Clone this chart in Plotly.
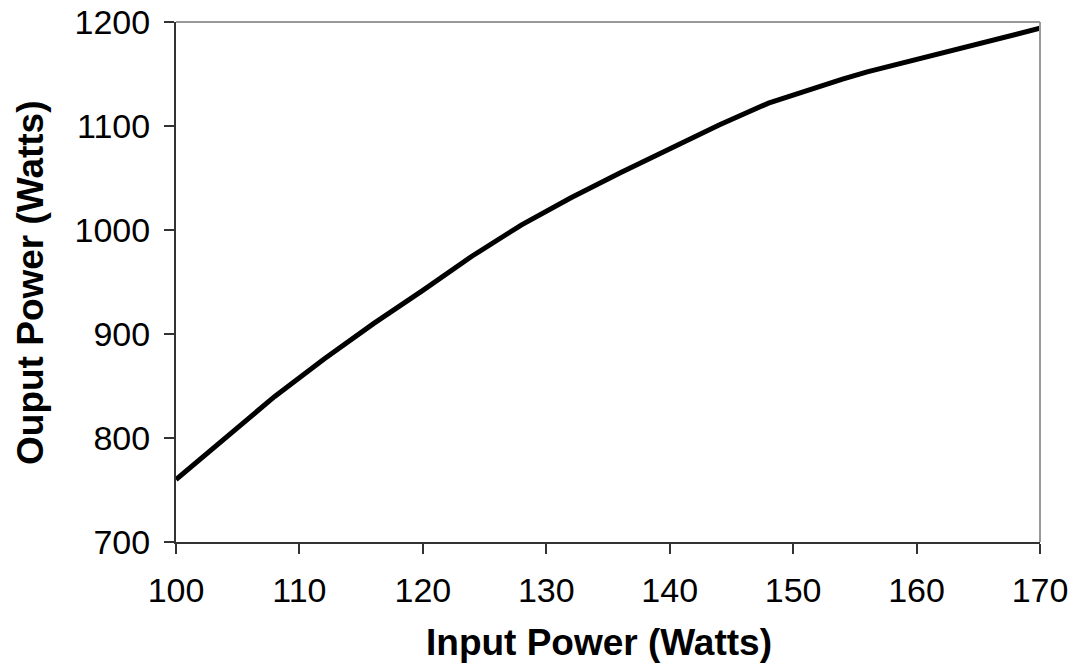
import plotly.graph_objects as go

input_power = [100, 104, 108, 112, 116, 120, 124, 128, 132, 136, 140, 144, 148, 152, 154, 156, 160, 164, 168, 170]
output_power = [760, 800, 840, 876, 910, 942, 975, 1005, 1031, 1055, 1078, 1101, 1122, 1138, 1145, 1152, 1164, 1176, 1187, 1194]

x_ticks = [100, 110, 120, 130, 140, 150, 160, 170]
y_ticks = [700, 800, 900, 1000, 1100, 1200]

fig = go.Figure()
fig.add_trace(go.Scatter(x=input_power, y=output_power, mode="lines",
                         line=dict(color="black", width=5), showlegend=False))

axis_font = dict(family="Liberation Sans, Arial, sans-serif", size=34, color="black")
title_font = dict(family="Liberation Sans, Arial, sans-serif", size=37, color="black")

fig.update_layout(
    width=1071, height=666,
    margin=dict(l=176, r=31, t=22, b=124),
    paper_bgcolor="white", plot_bgcolor="white",
    xaxis=dict(range=[100, 170], tickvals=x_ticks, ticktext=[str(v) for v in x_ticks],
               showgrid=False, zeroline=False, showline=True, linecolor="#333", linewidth=2,
               ticks="outside", ticklen=10, tickwidth=1.5, tickcolor="#333",
               tickfont=axis_font, ticklabelstandoff=7, automargin=False),
    yaxis=dict(range=[700, 1200], tickvals=y_ticks, ticktext=[str(v) for v in y_ticks],
               showgrid=False, zeroline=False, showline=True, linecolor="#333", linewidth=2,
               ticks="outside", ticklen=10, tickwidth=1.5, tickcolor="#333",
               tickfont=axis_font, ticklabelstandoff=7, automargin=False),
)
fig.add_shape(type="line", xref="paper", yref="paper", x0=0, x1=1, y0=1, y1=1,
              line=dict(color="#999", width=2))
fig.add_shape(type="line", xref="paper", yref="paper", x0=1, x1=1, y0=0, y1=1,
              line=dict(color="#999", width=2))
fig.add_annotation(text="<b>Input Power (Watts)</b>", xref="paper", yref="paper",
                   x=0.49, y=-0.194, xanchor="center", yanchor="middle",
                   showarrow=False, font=title_font)
fig.add_annotation(text="<b>Ouput Power (Watts)</b>", xref="paper", yref="paper",
                   x=-0.169, y=0.5, xanchor="center", yanchor="middle", textangle=-90,
                   showarrow=False, font=title_font)

fig.write_html("out.html", config={"displayModeBar": False},
               post_script="document.body.style.margin='0';document.body.style.overflow='hidden';")
